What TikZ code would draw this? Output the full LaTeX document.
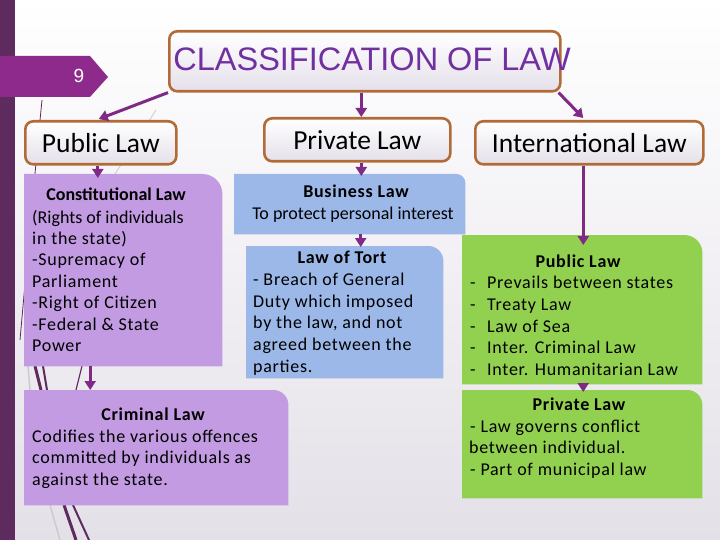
\documentclass[tikz,border=0pt]{standalone}
\usepackage{fontspec}
\setmainfont{Carlito}
\newfontfamily\bodyf[LetterSpace=4]{Carlito}
\newfontfamily\arialf{Liberation Sans}
\usetikzlibrary{arrows.meta,calc}
\definecolor{barc}{HTML}{5E2B5F}
\definecolor{tabc}{HTML}{8E2A8C}
\definecolor{arrowc}{HTML}{7E2A86}
\definecolor{titlec}{HTML}{7030A0}
\definecolor{brownc}{HTML}{B26B36}
\definecolor{lavc}{HTML}{C29BE3}
\definecolor{bluc}{HTML}{9CB8E8}
\definecolor{grnc}{HTML}{92D050}
\definecolor{bgbot}{HTML}{E4E0E8}
\definecolor{hdbot}{HTML}{E4E0EA}
\newcommand\onecorner[3]{%
  \fill[#2] (#1.south west) -- (#1.south east) -- ([yshift=-#3pt]#1.north east)
    arc[start angle=0,end angle=-90,radius=#3] -- (#1.north west) -- cycle;}
\begin{document}
\begin{tikzpicture}[x=1pt,y=-1pt,
  area/.style={inner sep=0pt,anchor=north west},
  hdr/.style={draw=brownc,line width=2.6pt,rounded corners=8pt,top color=white,bottom color=hdbot,inner sep=0pt,anchor=north west,font=\fontsize{27.5}{32}\selectfont},
  arr/.style={draw=arrowc,line width=3pt,-{Triangle[length=9pt,width=11pt]}},
  ln/.style={anchor=base west,inner sep=0pt,font=\bodyf\fontsize{18}{21}\selectfont},
  tln/.style={anchor=base west,inner sep=0pt,font=\fontsize{18}{21}\selectfont},
  hd/.style={anchor=base,inner sep=0pt,font=\bodyf\bfseries\fontsize{18}{21}\selectfont}]
% background
\useasboundingbox (0,0) rectangle (720,540);
\shade[top color=white,bottom color=bgbot] (0,0) rectangle (720,540);
\fill[barc] (0,0) rectangle (15,540);
% decorative streaks
\draw[barc,line width=0.8pt] (42,100) .. controls (37,150) and (28,250) .. (20,340);
\draw[gray!35,line width=1pt] (156,110) -- (115,174);
\draw[barc,line width=3pt] (35,366) -- (41,390);
\draw[barc,line width=2pt] (43,366) -- (47,390);
\draw[barc,line width=1.2pt] (82,366) -- (76,390);
\draw[gray!40,line width=1.5pt] (28,366) -- (30,390);
\draw[barc,line width=3pt] (64,505) -- (76,540);
\draw[barc,line width=2pt] (73,505) -- (89,540);
\draw[gray!40,line width=1.5pt] (50,505) -- (60,540);
% tab
\fill[tabc] (0,56) -- (90,56) -- (108,77) -- (90,97) -- (0,97) -- cycle;
\node[anchor=base,text=white,font=\arialf\fontsize{19}{22}\selectfont,inner sep=0pt] (pagenum) at (79,83) {9};
% header boxes
\node[hdr,minimum width=391pt,minimum height=60pt] (title) at (168,30) {};
\node[anchor=base,inner sep=0pt,text=titlec,font=\arialf\fontsize{32.5}{38}\selectfont] (titletext) at (372,71) {CLASSIFICATION OF LAW};
\node[hdr,minimum width=151pt,minimum height=43pt] (pub) at (24,120) {Public Law};
\node[hdr,minimum width=186pt,minimum height=43pt] (priv) at (263,117) {Private Law};
\node[hdr,minimum width=228pt,minimum height=43pt] (intl) at (474,120) {International Law};
% content boxes
\node[area,minimum width=198pt,minimum height=192pt] (cons) at (24,174) {};
\node[area,minimum width=264pt,minimum height=115pt] (crim) at (24,390) {};
\node[area,minimum width=231pt,minimum height=60pt] (bus) at (234,174) {};
\node[area,minimum width=197pt,minimum height=132pt] (tort) at (246,246) {};
\node[area,minimum width=240pt,minimum height=149pt] (gpub) at (462,235) {};
\node[area,minimum width=240pt,minimum height=108pt] (gpriv) at (462,390) {};
\onecorner{cons}{lavc}{20}
\onecorner{crim}{lavc}{15}
\onecorner{bus}{bluc}{9}
\onecorner{tort}{bluc}{15}
\onecorner{gpub}{grnc}{18}
\onecorner{gpriv}{grnc}{15}
% arrows
\draw[arr] (title.south west) -- ([xshift=-2pt,yshift=1pt]pub.north);
\draw[arr] ([xshift=4pt]priv.north |- title.south) -- ([xshift=4pt]priv.north);
\draw[arr] ([xshift=-3pt]title.south east) -- ([xshift=-6pt,yshift=2pt]intl.north);
\draw[arr] ([xshift=-3pt]pub.south) -- ([xshift=-3pt,yshift=-4pt]pub.south |- cons.north);
\draw[arr] ([xshift=-33pt]cons.south) -- ([xshift=-33pt]cons.south |- crim.north);
\draw[arr] ([xshift=4pt]priv.south) -- ([xshift=4pt,yshift=-2pt]priv.south |- bus.north);
\draw[arr] ([xshift=11pt]bus.south) -- ([xshift=11pt,yshift=-1pt]bus.south |- tort.north);
\draw[arr] ([xshift=-6pt]intl.south) -- ([xshift=-6pt,yshift=-10pt]intl.south |- gpub.north);
\draw[arr,shorten <=-6pt] ([xshift=1pt]gpub.south) -- ([xshift=1pt,yshift=-2pt]gpub.south |- gpriv.north);
% constitutional text
\node[hd,font=\bfseries\fontsize{18}{21}\selectfont] (c0) at (116,201) {Constitutional Law};
\node[tln] (c1) at (32,223) {(Rights of individuals};
\node[ln] (c2) at (32,244) {in the state)};
\node[ln] (c3) at (32,265) {-Supremacy of};
\node[ln] (c4) at (32,287) {Parliament};
\node[ln] (c5) at (32,308) {-Right of Citizen};
\node[ln] (c6) at (32,330) {-Federal \& State};
\node[ln] (c7) at (32,351) {Power};
% criminal text
\node[hd] (k0) at (153,420) {Criminal Law};
\node[ln] (k1) at (32,442) {Codifies the various offences};
\node[ln] (k2) at (32,463) {committed by individuals as};
\node[ln] (k3) at (32,485) {against the state.};
% business text
\node[hd] (b0) at (356,198) {Business Law};
\node[tln,anchor=base] (b1) at (353,220) {To protect personal interest};
% tort text
\node[hd] (t0) at (342,263) {Law of Tort};
\node[ln] (t1) at (253,285) {- Breach of General};
\node[ln] (t2) at (253,307) {Duty which imposed};
\node[ln] (t3) at (253,328) {by the law, and not};
\node[ln] (t4) at (253,350) {agreed between the};
\node[ln] (t5) at (253,372) {parties.};
% green public text
\node[hd] (g0) at (578,267) {Public Law};
\foreach \yy/\tt [count=\i] in {288/Prevails between states,310/Treaty Law,332/Law of Sea,353/Inter. Criminal Law,375/Inter. Humanitarian Law}{
  \node[ln] (gd\i) at (470,\yy) {-};
  \node[ln] (gt\i) at (487,\yy) {\tt};
}
% green private text
\node[hd] (p0) at (579,410) {Private Law};
\node[ln] (p1) at (470,432) {- Law governs conflict};
\node[ln] (p2) at (469,453) {between individual.};
\node[ln] (p3) at (470,475) {- Part of municipal law};
\end{tikzpicture}
\end{document}
